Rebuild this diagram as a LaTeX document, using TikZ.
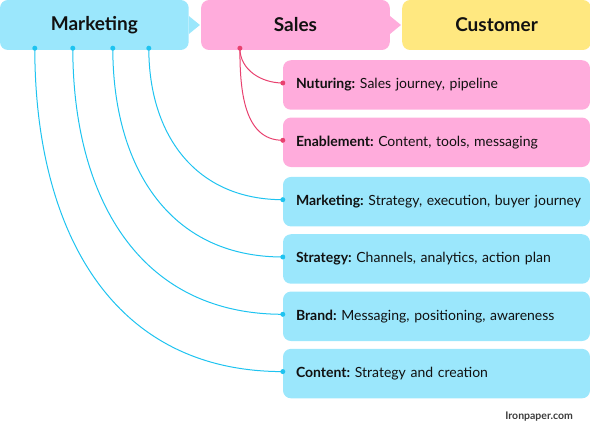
\documentclass[tikz,border=0pt]{standalone}
\usepackage{fontspec}
\setmainfont{Lato}
\usetikzlibrary{positioning}
\definecolor{mktblue}{RGB}{155,231,252}
\definecolor{mktline}{RGB}{30,195,240}
\definecolor{salespink}{RGB}{255,172,220}
\definecolor{salesline}{RGB}{232,65,111}
\definecolor{custyellow}{RGB}{255,232,128}
\definecolor{inkblack}{RGB}{17,17,17}
\definecolor{footgray}{RGB}{60,60,60}
\newcommand{\entry}[2]{\mbox{\textbf{#1} #2}}
\tikzstyle{stage} = [rectangle, rounded corners=8pt, inner sep=0pt,
minimum width=188.7pt, minimum height=50pt, text=inkblack,
font=\fontsize{19}{23}\selectfont\bfseries]
\tikzstyle{item} = [rectangle, rounded corners=8pt, inner xsep=13pt,
text width=281pt, align=left, minimum height=49.5pt, text=inkblack,
font=\fontsize{14}{17}\selectfont\frenchspacing]
\tikzstyle{mktwire} = [draw=mktline, line width=1pt]
\tikzstyle{saleswire} = [draw=salesline, line width=1pt]

\begin{document}
\begin{tikzpicture}[x=1pt, y=1pt, node distance=7.4pt, auto]
\useasboundingbox (0,0) rectangle (590,-427);
% funnel stages
\node [stage, fill=mktblue] (mkt) at (94.35,-25) {Marketing};
\node [stage, fill=salespink, right=12pt of mkt] (sales) {Sales};
\node [stage, fill=custyellow, right=12pt of sales] (cust) {Customer};
\fill [mktblue] ([yshift=9pt]mkt.east) -- ++(11,-9) -- ([yshift=-9pt]mkt.east) -- cycle;
\fill [salespink] ([yshift=9pt]sales.east) -- ++(11,-9) -- ([yshift=-9pt]sales.east) -- cycle;
% sales items
\node [item, fill=salespink] (nut) at (436.5,-85) {\entry{Nuturing:}{Sales journey, pipeline}};
\node [item, fill=salespink, below=of nut] (enab) {\entry{Enablement:}{Content, tools, messaging}};
% marketing items
\node [item, fill=mktblue, below=9.5pt of enab] (mktg) {\entry{Marketing:}{Strategy, execution, buyer journey}};
\node [item, fill=mktblue, below=of mktg] (strat) {\entry{Strategy:}{Channels, analytics, action plan}};
\node [item, fill=mktblue, below=of strat] (brand) {\entry{Brand:}{Messaging, positioning, awareness}};
\node [item, fill=mktblue, below=of brand] (cont) {\entry{Content:}{Strategy and creation}};
\node [anchor=east, inner sep=0pt, text=footgray, font=\fontsize{10.5}{12}\selectfont\bfseries] (foot) at (573,-417) {Ironpaper.com};
% connectors
\foreach \dx/\dst in {35/cont, 73/brand, 113/strat, 149/mktg} {
  \coordinate (a) at ([xshift=\dx pt, yshift=2pt]mkt.south west);
  \coordinate (b) at ([yshift=2pt]\dst.west);
  \draw [mktwire] (a) to[out=-90, in=180, looseness=1.1] (b);
  \fill [mktline] (a) circle (2.5) (b) circle (2.5);
}
\coordinate (s) at ([xshift=39pt, yshift=2pt]sales.south west);
\foreach \dst in {nut, enab} {
  \coordinate (b) at ([yshift=2pt]\dst.west);
  \draw [saleswire] (s) to[out=-90, in=180] (b);
  \fill [salesline] (b) circle (2.5);
}
\fill [salesline] (s) circle (2.5);
\end{tikzpicture}
\end{document}
